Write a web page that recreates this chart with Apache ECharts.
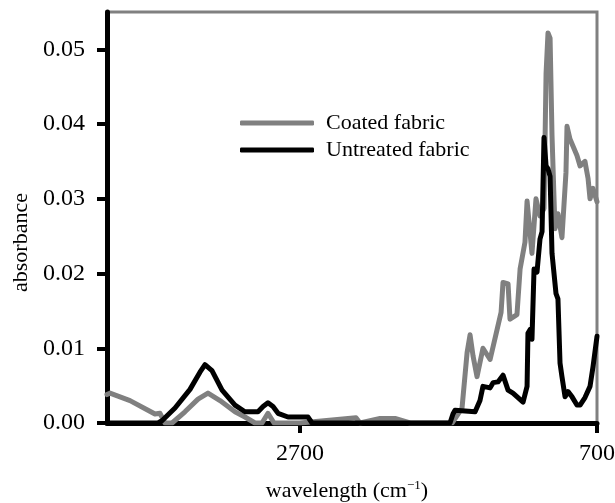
<!DOCTYPE html>
<html>
<head>
<meta charset="utf-8">
<script src="https://cdn.jsdelivr.net/npm/echarts@6/dist/echarts.min.js"></script>
<style>
html,body{margin:0;padding:0;background:#fff;}
#chart{width:615px;height:503px;}
</style>
</head>
<body>
<div id="chart"></div>
<script>
// Coated fabric spectrum (wavenumber cm-1, absorbance)
const coatedWn = [4000,3980,3845,3724,3677,3643,3609,3562,3475,3387,3320,3239,3138,3071,3003,2956,2916,2875,2700,2323,2296,2161,2060,1959,1676,1609,1575,1555,1535,1508,1468,1420,1373,1346,1333,1299,1286,1239,1218,1185,1171,1138,1111,1084,1057,1043,1030,1016,1003,983,963,936,909,902,882,835,814,781,760,747,727,700];
const coatedAbs = [0.0038,0.0040,0.0030,0.0017,0.0012,0.0013,0.0,0.0,0.0015,0.0032,0.0040,0.0030,0.0015,0.0008,0.0,0.0,0.0013,0.0,0.0,0.0007,0.0,0.0006,0.0006,0.0,0.0,0.0020,0.0094,0.0118,0.0090,0.0062,0.0100,0.0085,0.0125,0.0148,0.0188,0.0186,0.0139,0.0145,0.0206,0.0242,0.0297,0.0227,0.0300,0.0277,0.0287,0.0468,0.0522,0.0515,0.0385,0.0260,0.0280,0.0248,0.0335,0.0397,0.0380,0.0358,0.0344,0.0350,0.0327,0.0300,0.0314,0.0296];
// Untreated fabric spectrum
const untreatedWn = [4000,3657,3630,3542,3441,3374,3340,3293,3225,3138,3071,2983,2949,2916,2882,2848,2781,2646,2619,1690,1670,1656,1521,1488,1468,1420,1400,1367,1333,1299,1266,1232,1198,1171,1165,1151,1138,1124,1104,1084,1070,1057,1043,1030,1016,1003,990,976,963,949,936,915,895,868,835,814,781,747,727,700];
const untreatedAbs = [0.0,0.0,0.0003,0.0020,0.0045,0.0068,0.0078,0.0070,0.0044,0.0024,0.0015,0.0015,0.0022,0.0027,0.0022,0.0013,0.0008,0.0008,0.0,0.0,0.0012,0.0017,0.0015,0.0030,0.0049,0.0047,0.0054,0.0055,0.0064,0.0044,0.0040,0.0034,0.0028,0.0049,0.0120,0.0125,0.0112,0.0206,0.0202,0.0246,0.0256,0.0382,0.0344,0.0340,0.0330,0.0227,0.0227,0.0173,0.0166,0.0080,0.0062,0.0035,0.0042,0.0035,0.0024,0.0024,0.0034,0.0049,0.0075,0.0116];
const seriesNames = ['Coated fabric','Untreated fabric'];
const xTickValues = [2700, 700];
const yTickValues = [0, 0.01, 0.02, 0.03, 0.04, 0.05];

const pairs = (xs, ys) => xs.map((x, i) => [x, ys[i]]);
const font = '"Liberation Serif","Times New Roman",serif';

const chart = echarts.init(document.getElementById('chart'), null, {renderer: 'canvas'});
chart.setOption({
  animation: false,
  backgroundColor: '#fff',
  grid: {left: 107, right: 18, top: 12, bottom: 80, outerBoundsMode: 'none', containLabel: false,
    show: true, borderColor: '#808080', borderWidth: 3, backgroundColor: 'transparent'},
  legend: {
    orient: 'vertical', left: 240, top: 112, padding: 0, itemWidth: 74, itemHeight: 5, itemGap: 5,
    icon: 'roundRect',
    textStyle: {fontFamily: font, fontSize: 22, color: '#000', padding: [0, 0, 0, 7]},
    data: seriesNames
  },
  xAxis: {
    type: 'value', inverse: true, min: 700, max: 4000, interval: 2000,
    name: '{m|wavelength (cm}{s|−1}{m|)}',
    nameLocation: 'middle', nameGap: 56,
    nameTextStyle: {padding: [0, 10, 0, 0], rich: {
      m: {fontFamily: font, fontSize: 22, color: '#000', lineHeight: 24},
      s: {fontFamily: font, fontSize: 13, color: '#000', verticalAlign: 'top', lineHeight: 14}
    }},
    axisLine: {show: true, onZero: false, lineStyle: {color: '#000', width: 5}},
    axisTick: {show: true, length: 10, lineStyle: {color: '#000', width: 4}, customValues: xTickValues},
    axisLabel: {fontFamily: font, fontSize: 24, color: '#000', margin: 19, customValues: xTickValues,
      formatter: v => String(v)},
    splitLine: {show: false}
  },
  yAxis: {
    type: 'value', min: 0, max: 0.055, interval: 0.01,
    name: 'absorbance', nameLocation: 'middle', nameGap: 72,
    nameTextStyle: {fontFamily: font, fontSize: 22, color: '#000', padding: [0, 50, 0, 0]},
    axisLine: {show: true, lineStyle: {color: '#000', width: 5}},
    axisTick: {show: true, length: 10, lineStyle: {color: '#000', width: 4}, customValues: yTickValues},
    axisLabel: {fontFamily: font, fontSize: 24, color: '#000', margin: 22, customValues: yTickValues,
      formatter: v => v.toFixed(2)},
    splitLine: {show: false}
  },
  series: [
    {name: seriesNames[0], type: 'line', data: pairs(coatedWn, coatedAbs), showSymbol: false, symbol: 'none',
     color: '#808080', lineStyle: {color: '#808080', width: 5, join: 'round', cap: 'round'}, z: 2},
    {name: seriesNames[1], type: 'line', data: pairs(untreatedWn, untreatedAbs), showSymbol: false, symbol: 'none',
     color: '#000', lineStyle: {color: '#000', width: 5, join: 'round', cap: 'round'}, z: 3}
  ]
});
</script>
</body>
</html>
